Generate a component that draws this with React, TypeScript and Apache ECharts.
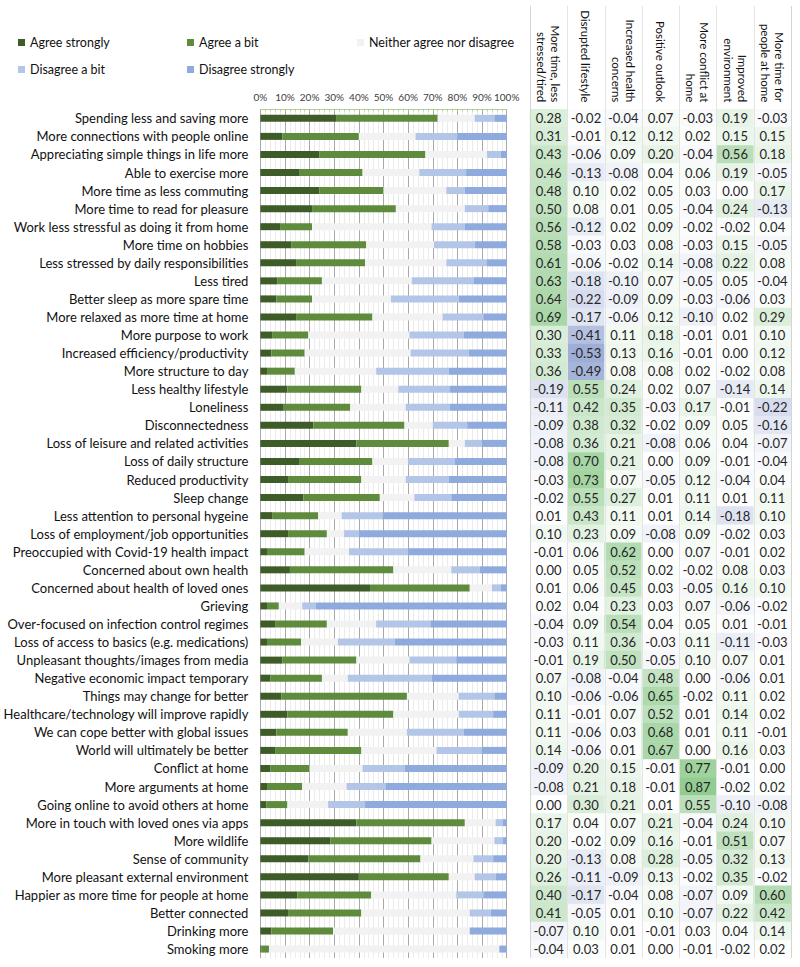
import React, { useEffect, useRef } from 'react';
import * as echarts from 'echarts';

const categories = [
  'Spending less and saving more',
  'More connections with people online',
  'Appreciating simple things in life more',
  'Able to exercise more',
  'More time as less commuting',
  'More time to read for pleasure',
  'Work less stressful as doing it from home',
  'More time on hobbies',
  'Less stressed by daily responsibilities',
  'Less tired',
  'Better sleep as more spare time',
  'More relaxed as more time at home',
  'More purpose to work',
  'Increased efficiency/productivity',
  'More structure to day',
  'Less healthy lifestyle',
  'Loneliness',
  'Disconnectedness',
  'Loss of leisure and related activities',
  'Loss of daily structure',
  'Reduced productivity',
  'Sleep change',
  'Less attention to personal hygeine',
  'Loss of employment/job opportunities',
  'Preoccupied with Covid-19 health impact',
  'Concerned about own health',
  'Concerned about health of loved ones',
  'Grieving',
  'Over-focused on infection control regimes',
  'Loss of access to basics (e.g. medications)',
  'Unpleasant thoughts/images from media',
  'Negative economic impact temporary',
  'Things may change for better',
  'Healthcare/technology will improve rapidly',
  'We can cope better with global issues',
  'World will ultimately be better',
  'Conflict at home',
  'More arguments at home',
  'Going online to avoid others at home',
  'More in touch with loved ones via apps',
  'More wildlife',
  'Sense of community',
  'More pleasant external environment',
  'Happier as more time for people at home',
  'Better connected',
  'Drinking more',
  'Smoking more',
];

const agreeStrongly = [31, 9, 24, 16, 24, 21, 8, 12.5, 14.5, 7, 6.5, 14.5, 5, 4.5, 3, 11, 9.5, 21.5, 39, 16, 11.5, 17.5, 5, 11.5, 3, 12, 44.5, 3, 6, 3, 9, 4, 8.5, 11, 6.5, 6, 4, 3, 2.5, 39, 28.5, 19.5, 40, 15, 11.5, 4.5, 0.5];
const agreeBit = [41, 31, 43, 25.5, 26, 34, 13, 30.5, 28, 18, 14.5, 31, 14.5, 13.5, 11, 30, 27, 37, 37.5, 29.5, 29.5, 31, 18.5, 15.5, 15, 42, 40.5, 4.5, 21, 13.5, 30, 21, 51, 43, 29, 35, 16, 14, 8.5, 44, 41, 45.5, 36.5, 30, 29.5, 25, 3];
const neither = [15, 23, 25, 23, 25.5, 28, 48.5, 27.5, 33, 36.5, 32, 28.5, 41, 43, 33, 15, 22.5, 11.5, 6.5, 14.5, 18, 14, 9.5, 7, 18, 23.5, 9, 9.5, 20, 15, 21.5, 10.5, 21, 26.5, 24, 30.5, 21.5, 18, 16.5, 12.5, 25.5, 21.5, 10.5, 34.5, 44, 55.5, 93.5];
const disagreeBit = [8, 17, 5.5, 19, 7.5, 9.5, 13.5, 16.5, 16.5, 25, 27.5, 16.5, 22, 23.5, 29.5, 21, 18, 14, 7, 19, 17.5, 15, 16.5, 6, 24, 11.5, 3.5, 5.5, 22, 23, 19, 34, 14.5, 14, 23, 18.5, 17, 16, 15, 3, 3.5, 8, 8.5, 11, 8.5, 0, 0];
const disagreeStrongly = [5, 20, 2.5, 16.5, 17, 7.5, 17, 13, 8, 13.5, 19.5, 9.5, 17.5, 15.5, 23.5, 23, 23, 16, 10, 21, 23.5, 22.5, 50.5, 60, 40, 11, 2.5, 77.5, 31, 45.5, 20.5, 30.5, 5, 5.5, 17.5, 10, 41.5, 49, 57.5, 1.5, 1.5, 5.5, 4.5, 9.5, 6.5, 15, 3];

const percentTicks = ['0%', '10%', '20%', '30%', '40%', '50%', '60%', '70%', '80%', '90%', '100%'];

const factorNames = [
  'More time, less\nstressed/tired',
  'Disrupted lifestyle',
  'Increased health\nconcerns',
  'Positive outlook',
  'More conflict at\nhome',
  'Improved\nenvironment',
  'More time for\npeople at home',
];

const fMoreTime = [0.28, 0.31, 0.43, 0.46, 0.48, 0.50, 0.56, 0.58, 0.61, 0.63, 0.64, 0.69, 0.30, 0.33, 0.36, -0.19, -0.11, -0.09, -0.08, -0.08, -0.03, -0.02, 0.01, 0.10, -0.01, 0.00, 0.01, 0.02, -0.04, -0.03, -0.01, 0.07, 0.10, 0.11, 0.11, 0.14, -0.09, -0.08, 0.00, 0.17, 0.20, 0.20, 0.26, 0.40, 0.41, -0.07, -0.04];
const fDisrupted = [-0.02, -0.01, -0.06, -0.13, 0.10, 0.08, -0.12, -0.03, -0.06, -0.18, -0.22, -0.17, -0.41, -0.53, -0.49, 0.55, 0.42, 0.38, 0.36, 0.70, 0.73, 0.55, 0.43, 0.23, 0.06, 0.05, 0.06, 0.04, 0.09, 0.11, 0.19, -0.08, -0.06, -0.01, -0.06, -0.06, 0.20, 0.21, 0.30, 0.04, -0.02, -0.13, -0.11, -0.17, -0.05, 0.10, 0.03];
const fHealth = [-0.04, 0.12, 0.09, -0.08, 0.02, 0.01, 0.02, 0.03, -0.02, -0.10, -0.09, -0.06, 0.11, 0.13, 0.08, 0.24, 0.35, 0.32, 0.21, 0.21, 0.07, 0.27, 0.11, 0.09, 0.62, 0.52, 0.45, 0.23, 0.54, 0.36, 0.50, -0.04, -0.06, 0.07, 0.03, 0.01, 0.15, 0.18, 0.21, 0.07, 0.09, 0.08, -0.09, -0.04, 0.01, 0.01, 0.01];
const fPositive = [0.07, 0.12, 0.20, 0.04, 0.05, 0.05, 0.09, 0.08, 0.14, 0.07, 0.09, 0.12, 0.18, 0.16, 0.08, 0.02, -0.03, -0.02, -0.08, 0.00, -0.05, 0.01, 0.01, -0.08, 0.00, 0.02, 0.03, 0.03, 0.04, -0.03, -0.05, 0.48, 0.65, 0.52, 0.68, 0.67, -0.01, -0.01, 0.01, 0.21, 0.16, 0.28, 0.13, 0.08, 0.10, -0.01, 0.00];
const fConflict = [-0.03, 0.02, -0.04, 0.06, 0.03, -0.04, -0.02, -0.03, -0.08, -0.05, -0.03, -0.10, -0.01, -0.01, 0.02, 0.07, 0.17, 0.09, 0.06, 0.09, 0.12, 0.11, 0.14, 0.09, 0.07, -0.02, -0.05, 0.07, 0.05, 0.11, 0.10, 0.00, -0.02, 0.01, 0.01, 0.00, 0.77, 0.87, 0.55, -0.04, -0.01, -0.05, -0.02, -0.07, -0.07, 0.03, -0.01];
const fEnvironment = [0.19, 0.15, 0.56, 0.19, 0.00, 0.24, -0.02, 0.15, 0.22, 0.05, -0.06, 0.02, 0.01, 0.00, -0.02, -0.14, -0.01, 0.05, 0.04, -0.01, -0.04, 0.01, -0.18, -0.02, -0.01, 0.08, 0.16, -0.06, 0.01, -0.11, 0.07, -0.06, 0.11, 0.14, 0.11, 0.16, -0.01, -0.02, -0.10, 0.24, 0.51, 0.32, 0.35, 0.09, 0.22, 0.04, -0.02];
const fPeople = [-0.03, 0.15, 0.18, -0.05, 0.17, -0.13, 0.04, -0.05, 0.08, -0.04, 0.03, 0.29, 0.10, 0.12, 0.08, 0.14, -0.22, -0.16, -0.07, -0.04, 0.04, 0.11, 0.10, 0.03, 0.02, 0.03, 0.10, -0.02, -0.01, -0.03, 0.01, 0.01, 0.02, 0.02, -0.01, 0.03, 0.00, 0.02, -0.08, 0.10, 0.07, 0.13, -0.02, 0.60, 0.42, 0.14, 0.02];

const factorColumns = [fMoreTime, fDisrupted, fHealth, fPositive, fConflict, fEnvironment, fPeople];

const FONT = 'Lato, "Noto Sans", sans-serif';

export default function App() {
  const ref = useRef<HTMLDivElement>(null);

  useEffect(() => {
    if (!ref.current) return;
    const chart = echarts.init(ref.current, undefined, { renderer: 'svg' });

    const gridTop = 109.3;
    const gridHeight = 848.8;
    const hmLeft = 530;
    const hmWidth = 261;

    const heatData: any[] = [];
    factorColumns.forEach((col, j) => {
      col.forEach((v, i) => heatData.push([j, i, v]));
    });

    const colLines: any[] = [];
    for (let k = 0; k <= factorNames.length; k++) {
      const x = Math.round(hmLeft + (k * hmWidth) / factorNames.length) + 0.5;
      colLines.push({
        type: 'line',
        z: 100,
        shape: { x1: x, y1: 6, x2: x, y2: gridTop + gridHeight },
        style: { stroke: k === 0 || k === factorNames.length ? '#d4d4d4' : '#e4e4e4', lineWidth: 1 },
      });
    }

    const legendItem = (name: string, left: number, top: number) => ({
      data: [name],
      left,
      top,
      padding: 0,
      icon: 'rect',
      itemWidth: 7,
      itemHeight: 7,
      textStyle: { fontSize: 12.5, color: '#111', fontFamily: FONT },
    });

    const barSeries = (name: string, data: number[], color: string) => ({
      name,
      type: 'bar',
      stack: 'resp',
      xAxisIndex: 0,
      yAxisIndex: 0,
      barWidth: 7,
      data,
      itemStyle: { color },
      emphasis: { disabled: true },
    });

    chart.setOption({
      animation: false,
      textStyle: { fontFamily: FONT },
      legend: [
        legendItem('Agree strongly', 18, 36),
        legendItem('Agree a bit', 187, 36),
        legendItem('Neither agree nor disagree', 357, 36),
        legendItem('Disagree a bit', 18, 63),
        legendItem('Disagree strongly', 187, 63),
      ],
      grid: [
        { left: 258.3, width: 248.4, top: gridTop, height: gridHeight, containLabel: false },
        { left: hmLeft, width: hmWidth, top: gridTop, height: gridHeight, containLabel: false },
      ],
      xAxis: [
        {
          type: 'value',
          gridIndex: 0,
          position: 'top',
          min: 0,
          max: 100,
          interval: 10,
          axisLabel: {
            formatter: (v: number) => percentTicks[Math.round(v / 10)],
            fontSize: 10,
            color: '#404040',
            margin: 7,
            fontFamily: FONT,
          },
          axisLine: { show: true, lineStyle: { color: '#b5cc9c', width: 1 } },
          axisTick: { show: true, inside: true, length: 3, lineStyle: { color: '#9fbd80' } },
          minorTick: { show: true, splitNumber: 5, length: 2, lineStyle: { color: '#b5cc9c' } },
          splitLine: { show: true, lineStyle: { color: '#a9a9a9', width: 1 } },
          minorSplitLine: { show: true, lineStyle: { color: '#ebebeb', width: 1 } },
        },
        {
          type: 'category',
          gridIndex: 1,
          position: 'top',
          data: factorNames,
          axisLine: { show: false },
          axisTick: { show: false },
          splitLine: { show: false },
          axisLabel: {
            rotate: 90,
            interval: 0,
            fontSize: 11.5,
            lineHeight: 14,
            color: '#111',
            margin: 7,
            fontFamily: FONT,
          },
        },
      ],
      yAxis: [
        {
          type: 'category',
          gridIndex: 0,
          inverse: true,
          data: categories,
          axisLine: { show: false },
          axisTick: { show: false },
          axisLabel: { fontSize: 13, color: '#111', margin: 12, interval: 0, fontFamily: FONT },
        },
        {
          type: 'category',
          gridIndex: 1,
          inverse: true,
          data: categories,
          axisLine: { show: false },
          axisTick: { show: false },
          axisLabel: { show: false },
        },
      ],
      visualMap: {
        show: false,
        type: 'continuous',
        seriesIndex: 5,
        dimension: 2,
        min: -0.87,
        max: 0.87,
        inRange: { color: ['#607abc', '#ffffff', '#92cc90'] },
      },
      series: [
        barSeries('Agree strongly', agreeStrongly, '#3d5c28'),
        barSeries('Agree a bit', agreeBit, '#5f8b3c'),
        barSeries('Neither agree nor disagree', neither, '#f2f2f2'),
        barSeries('Disagree a bit', disagreeBit, '#b4c6e7'),
        barSeries('Disagree strongly', disagreeStrongly, '#8faadc'),
        {
          type: 'heatmap',
          xAxisIndex: 1,
          yAxisIndex: 1,
          data: heatData,
          itemStyle: { borderWidth: 0 },
          emphasis: { disabled: true },
          label: {
            show: true,
            fontSize: 13,
            color: '#262626',
            fontFamily: FONT,
            formatter: (p: any) => (p.value[2] as number).toFixed(2),
          },
        },
      ],
      graphic: colLines,
    });

    return () => chart.dispose();
  }, []);

  return (
    <div
      ref={ref}
      style={{ position: 'absolute', left: 0, top: 0, width: 800, height: 967, background: '#fff' }}
    />
  );
}
